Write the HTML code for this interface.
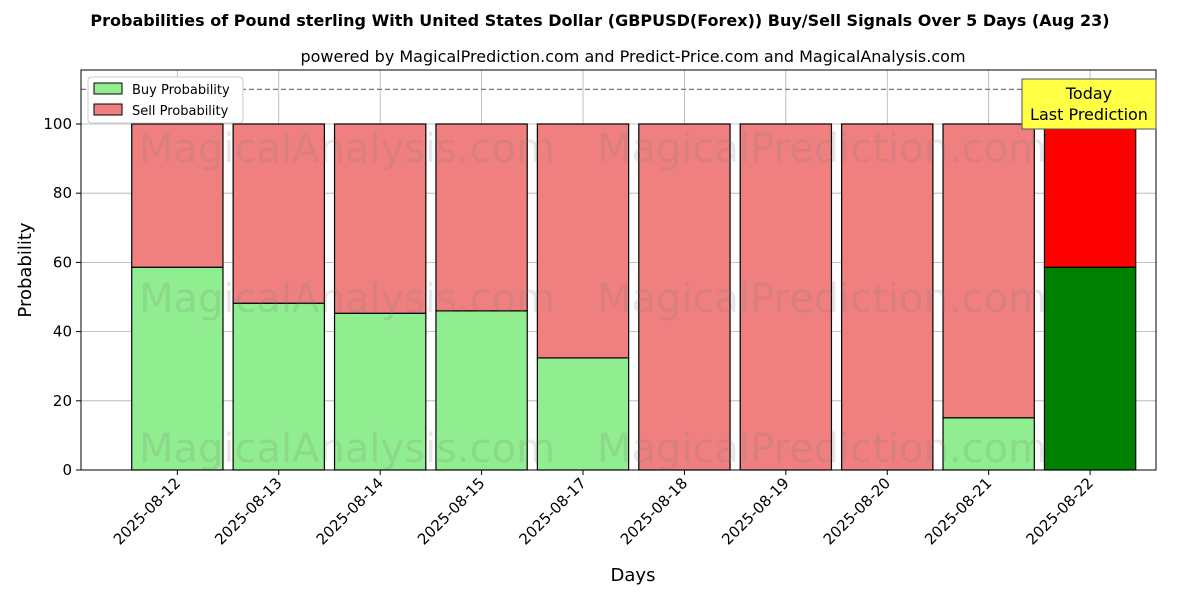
<!DOCTYPE html>
<html><head><meta charset="utf-8"><style>
body{margin:0;background:#fff;font-family:"Liberation Sans","DejaVu Sans",sans-serif}
svg text{font-family:"DejaVu Sans","Liberation Sans",sans-serif}
</style></head><body>
<svg id="chart" width="1200" height="600" xmlns="http://www.w3.org/2000/svg">
<rect width="1200" height="600" fill="#fff"/>
<text x="600" y="26" text-anchor="middle" font-size="16" font-weight="bold">Probabilities of Pound sterling With United States Dollar (GBPUSD(Forex)) Buy/Sell Signals Over 5 Days (Aug 23)</text>
<text x="633" y="62" text-anchor="middle" font-size="16">powered by MagicalPrediction.com and Predict-Price.com and MagicalAnalysis.com</text>
<g id="grid"></g>
<g id="bars"></g>
<g id="wm" font-size="40" fill="rgba(120,120,120,0.18)">
<text x="347" y="162" text-anchor="middle">MagicalAnalysis.com</text>
<text x="822" y="162" text-anchor="middle">MagicalPrediction.com</text>
<text x="347" y="312" text-anchor="middle">MagicalAnalysis.com</text>
<text x="822" y="312" text-anchor="middle">MagicalPrediction.com</text>
<text x="347" y="462" text-anchor="middle">MagicalAnalysis.com</text>
<text x="822" y="462" text-anchor="middle">MagicalPrediction.com</text>
</g>
<line x1="81" y1="89.4" x2="1156" y2="89.4" stroke="#777" stroke-dasharray="5,3" stroke-width="1.2"/>
<rect x="81" y="70" width="1075" height="400" fill="none" stroke="#000" stroke-width="1"/>
<g id="ticks"></g>
<text x="31" y="270" transform="rotate(-90 31 270)" text-anchor="middle" font-size="18">Probability</text>
<text x="633" y="581" text-anchor="middle" font-size="18">Days</text>
<g>
<rect x="88" y="77" width="155" height="46" fill="#fff" stroke="#ccc" rx="3"/>
<rect x="94" y="83" width="28" height="11" fill="lightgreen" stroke="#000"/>
<text x="132" y="94" font-size="13">Buy Probability</text>
<rect x="94" y="104" width="28" height="11" fill="lightcoral" stroke="#000"/>
<text x="132" y="115" font-size="13">Sell Probability</text>
</g>
<g>
<rect x="1022" y="79" width="134" height="50" fill="#ffff44" stroke="#555"/>
<text x="1089" y="99" text-anchor="middle" font-size="16">Today</text>
<text x="1089" y="120" text-anchor="middle" font-size="16">Last Prediction</text>
</g>
</svg>
<script>
const categories=["2025-08-12","2025-08-13","2025-08-14","2025-08-15","2025-08-17","2025-08-18","2025-08-19","2025-08-20","2025-08-21","2025-08-22"];
const buyValues=[58.6,48.2,45.3,46.0,32.4,0,0,0,15.1,58.6];
const sellValues=[41.4,51.8,54.7,54.0,67.6,100,100,100,84.9,41.4];
const yTicks=[0,20,40,60,80,100];
const NS="http://www.w3.org/2000/svg";
const X0=81,X1=1156,Y0=470,Y1=70,xmin=-0.95,xmax=9.65,ymin=0,ymax=115.6;
const xs=i=>X0+(i-xmin)/(xmax-xmin)*(X1-X0);
const ys=v=>Y0-(v-ymin)/(ymax-ymin)*(Y0-Y1);
const bw=(X1-X0)/(xmax-xmin)*0.9;
function mk(tag,at,parent){const e=document.createElementNS(NS,tag);for(const k in at)e.setAttribute(k,at[k]);document.getElementById(parent).appendChild(e);return e;}
yTicks.forEach(t=>{
 const l=mk('line',{x1:X0,x2:X1,y1:ys(t),y2:ys(t),stroke:'#b0b0b0','stroke-width':0.8},'grid');
 
 
 const k=mk('line',{x1:X0-5,x2:X0,y1:ys(t),y2:ys(t),stroke:'#000'},'ticks');
 
 
 const tx=mk('text',{x:X0-9,y:ys(t)+5,'text-anchor':'end','font-size':15},'ticks');
 tx.textContent=t;
 
 
});
categories.forEach((c,i)=>{
 const x=xs(i);
 const g=mk('line',{x1:x,x2:x,y1:Y1,y2:Y0,stroke:'#b0b0b0','stroke-width':0.8},'grid');
 
 
 const last=i===categories.length-1;
 const b=mk('rect',{x:x-bw/2,y:ys(buyValues[i]),width:bw,height:ys(0)-ys(buyValues[i]),fill:last?'green':'lightgreen',stroke:'#000','stroke-width':1.2},'bars');
 
 
 const s=mk('rect',{x:x-bw/2,y:ys(buyValues[i]+sellValues[i]),width:bw,height:ys(buyValues[i])-ys(buyValues[i]+sellValues[i]),fill:last?'red':'lightcoral',stroke:'#000','stroke-width':1.2},'bars');
 
 
 const k=mk('line',{x1:x,x2:x,y1:Y0,y2:Y0+5,stroke:'#000'},'ticks');
 
 
 const tx=mk('text',{x:x+4,y:Y0+14,'text-anchor':'end','font-size':15,transform:`rotate(-45 ${x+4} ${Y0+14})`},'ticks');
 tx.textContent=c;
 
 
});
</script>
</body></html>
